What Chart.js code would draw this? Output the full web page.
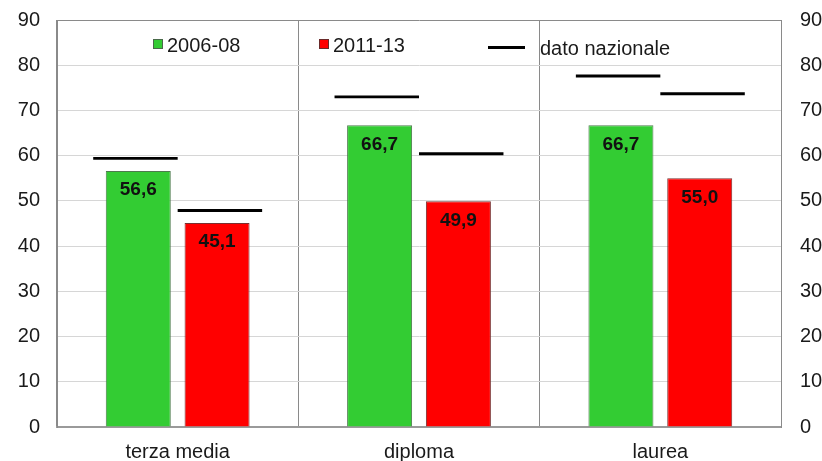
<!DOCTYPE html>
<html>
<head>
<meta charset="utf-8">
<script src="https://cdn.jsdelivr.net/npm/chart.js@4"></script>
<style>
  html, body { margin: 0; padding: 0; background: #fff; }
  #wrap { width: 822px; height: 461px; }
</style>
</head>
<body>
<div id="wrap"><canvas id="c" width="822" height="461"></canvas></div>
<script>
const categories = ['terza media', 'diploma', 'laurea'];
const series2006 = [56.6, 66.7, 66.7];
const series2011 = [45.1, 49.9, 55.0];
const national2006 = [59.4, 73.0, 77.6];
const national2011 = [47.9, 60.4, 73.7];
const yTicks = [0, 10, 20, 30, 40, 50, 60, 70, 80, 90];
const legendLabels = ['2006-08', '2011-13', 'dato nazionale'];

const FONT = '"Liberation Sans", Arial, sans-serif';
const GREEN = '#33cc33';
const RED = '#ff0000';
const FRAME = '#8a8a8a';
const HALF = 0.33;

const fmt = v => v.toFixed(1).replace('.', ',');

const valueLabels = {
  id: 'valueLabels',
  afterDatasetsDraw(chart) {
    const ctx = chart.ctx;
    ctx.save();
    ctx.font = 'bold 19px ' + FONT;
    ctx.fillStyle = '#111';
    ctx.textAlign = 'center';
    ctx.textBaseline = 'middle';
    [0, 1].forEach(di => {
      const meta = chart.getDatasetMeta(di);
      meta.data.forEach((el, i) => {
        const v = chart.data.datasets[di].data[i];
        ctx.fillText(fmt(v), el.x, el.y + 19);
      });
    });
    ctx.restore();
  }
};

const customLegend = {
  id: 'customLegend',
  afterDraw(chart) {
    const ctx = chart.ctx;
    const a = chart.chartArea;
    const L = a.left, T = a.top;
    ctx.save();
    ctx.font = '20px ' + FONT;
    ctx.textBaseline = 'alphabetic';
    ctx.textAlign = 'left';
    ctx.lineWidth = 1;
    // item 1
    ctx.fillStyle = GREEN;
    ctx.fillRect(L + 96, T + 19, 10, 10);
    ctx.strokeStyle = '#4a6a4a';
    ctx.strokeRect(L + 96.5, T + 19.5, 9, 9);
    ctx.fillStyle = '#1a1a1a';
    ctx.fillText(legendLabels[0], L + 110, T + 32);
    // item 2
    ctx.fillStyle = RED;
    ctx.fillRect(L + 262, T + 19, 10, 10);
    ctx.strokeStyle = '#6a2a2a';
    ctx.strokeRect(L + 262.5, T + 19.5, 9, 9);
    ctx.fillStyle = '#1a1a1a';
    ctx.fillText(legendLabels[1], L + 276, T + 32);
    // item 3
    ctx.strokeStyle = '#000';
    ctx.lineWidth = 3;
    ctx.beginPath();
    ctx.moveTo(L + 431, T + 27.5);
    ctx.lineTo(L + 468, T + 27.5);
    ctx.stroke();
    ctx.fillText(legendLabels[2], L + 483, T + 35);
    ctx.restore();
  }
};

const common = { xAxisID: 'x', yAxisID: 'y' };
const fitY = w => s => { s.width = w; s.paddingTop = 0; s.paddingBottom = 0; };

new Chart(document.getElementById('c'), {
  type: 'bar',
  data: {
    labels: categories,
    datasets: [
      { ...common, label: legendLabels[0], data: series2006, stack: 'a', backgroundColor: GREEN, borderColor: '#4d7a4d', borderWidth: 1,
        categoryPercentage: 0.653, barPercentage: 0.825, order: 2 },
      { ...common, label: legendLabels[1], data: series2011, stack: 'b', backgroundColor: RED, borderColor: '#7a3030', borderWidth: 1,
        categoryPercentage: 0.653, barPercentage: 0.825, order: 2 },
      { ...common, label: legendLabels[2], data: national2006.map(v => [v - HALF, v + HALF]), stack: 'a', backgroundColor: '#000', borderWidth: 0,
        categoryPercentage: 0.70, barPercentage: 1.0, order: 1 },
      { ...common, label: legendLabels[2] + ' (2011-13)', data: national2011.map(v => [v - HALF, v + HALF]), stack: 'b', backgroundColor: '#000', borderWidth: 0,
        categoryPercentage: 0.70, barPercentage: 1.0, order: 1 }
    ]
  },
  options: {
    responsive: false,
    animation: false,
    layout: { padding: { top: 20, left: 0, right: 0, bottom: 0 } },
    plugins: { legend: { display: false }, tooltip: { enabled: false } },
    scales: {
      x: {
        type: 'category',
        stacked: true,
        offset: true,
        grid: { offset: true, color: FRAME, lineWidth: 1, drawTicks: false },
        border: { color: '#9a9a9a', width: 2 },
        ticks: { font: { family: FONT, size: 20 }, color: '#1a1a1a', padding: 13 },
        afterFit: s => { s.height = 34; s.paddingLeft = 0; s.paddingRight = 0; }
      },
      y: {
        position: 'left',
        stacked: false,
        min: 0, max: 90,
        afterBuildTicks: s => { s.ticks = yTicks.map(v => ({ value: v })); },
        grid: { color: c => (c.tick && c.tick.value === 90) ? FRAME : '#d6d6d6', drawTicks: false, lineWidth: 1 },
        border: { color: FRAME, width: 1 },
        ticks: { font: { family: FONT, size: 20 }, color: '#1a1a1a', padding: 17 },
        afterFit: fitY(57)
      },
      y2: {
        position: 'right',
        min: 0, max: 90,
        afterBuildTicks: s => { s.ticks = yTicks.map(v => ({ value: v })); },
        grid: { display: false, drawTicks: false },
        border: { color: FRAME, width: 1 },
        ticks: { font: { family: FONT, size: 20 }, color: '#1a1a1a', padding: 19 },
        afterFit: fitY(41)
      }
    }
  },
  plugins: [valueLabels, customLegend]
});
</script>
</body>
</html>
